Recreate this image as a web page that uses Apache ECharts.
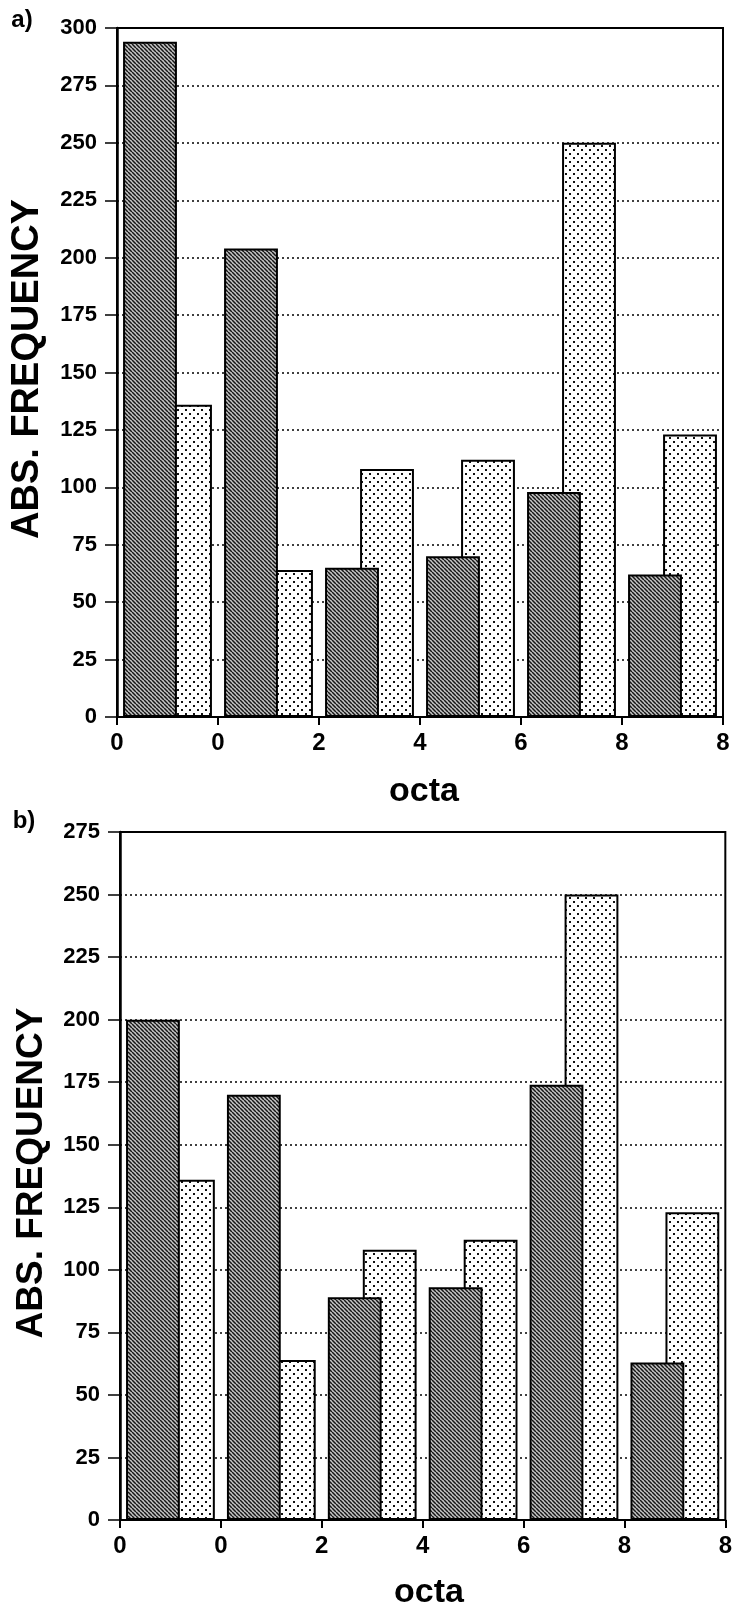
<!DOCTYPE html>
<html>
<head>
<meta charset="utf-8">
<script src="https://cdn.jsdelivr.net/npm/echarts@6/dist/echarts.min.js"></script>
<style>
  html, body { margin: 0; padding: 0; background: #fff; }
  #chart { width: 735px; height: 1611px; }
</style>
</head>
<body>
<div id="chart"></div>
<script>
// octa classes (6 groups), tick labels sit on the group boundaries
const groups = ['g1', 'g2', 'g3', 'g4', 'g5', 'g6'];
const tickLabels = ['0', '0', '2', '4', '6', '8', '8'];

// panel a)
const darkA = [294, 204, 65, 70, 98, 62];
const lightA = [136, 64, 108, 112, 250, 123];

// panel b)
const darkB = [200, 170, 89, 93, 174, 63];
const lightB = [136, 64, 108, 112, 250, 123];

const FONT = '"Liberation Sans", Arial, Helvetica, sans-serif';

function hatchPattern() {
  const c = document.createElement('canvas');
  c.width = 4;
  c.height = 4;
  const ctx = c.getContext('2d');
  ctx.fillStyle = '#c4c4c4';
  ctx.fillRect(0, 0, 4, 4);
  ctx.strokeStyle = '#161616';
  ctx.lineWidth = 1.5;
  for (let k = -4; k <= 4; k += 4) {
    ctx.beginPath();
    ctx.moveTo(k, 0);
    ctx.lineTo(k + 4, 4);
    ctx.stroke();
  }
  return c;
}

function dotPattern() {
  const c = document.createElement('canvas');
  c.width = 8;
  c.height = 8;
  const ctx = c.getContext('2d');
  ctx.fillStyle = '#fff';
  ctx.fillRect(0, 0, 8, 8);
  ctx.fillStyle = '#111';
  ctx.fillRect(1, 1, 2, 2);
  ctx.fillRect(5, 5, 2, 2);
  return c;
}

const hatch = { image: hatchPattern(), repeat: 'repeat' };
const dots = { image: dotPattern(), repeat: 'repeat' };

function grid(top, left, width, height) {
  return {
    left: left, top: top, width: width, height: height,
    containLabel: false,
    show: true,
    borderColor: '#000',
    borderWidth: 2,
    backgroundColor: 'transparent'
  };
}

function catAxis(gi) {
  return { type: 'category', gridIndex: gi, data: groups, show: false, boundaryGap: true };
}

function tickAxis(gi) {
  return {
    type: 'value', gridIndex: gi, min: 0, max: 6, interval: 1,
    position: 'bottom',
    axisLine: { show: true, lineStyle: { color: '#000', width: 2 } },
    axisTick: { show: true, length: 8, lineStyle: { color: '#000', width: 2 } },
    axisLabel: {
      show: true, showMinLabel: true, showMaxLabel: true,
      formatter: function (v) { return tickLabels[v]; },
      fontSize: 24, fontWeight: 'bold', color: '#000', fontFamily: FONT, margin: 14
    },
    splitLine: { show: false }
  };
}

function valAxis(gi, max) {
  return {
    type: 'value', gridIndex: gi, min: 0, max: max, interval: 25,
    axisLine: { show: true, lineStyle: { color: '#000', width: 2.5 } },
    axisTick: { show: true, length: 12, lineStyle: { color: '#000', width: 1.5 } },
    axisLabel: { fontSize: 22, fontWeight: 'bold', color: '#000', fontFamily: FONT, margin: 20 },
    splitLine: { show: true, lineStyle: { color: '#000', type: [2, 3], width: 1.5 } }
  };
}

function bars(xi, yi, data, pattern, z) {
  return {
    type: 'bar', xAxisIndex: xi, yAxisIndex: yi, data: data, z: z,
    barCategoryGap: '12%', barGap: '-35%',
    itemStyle: { color: pattern, borderColor: '#000', borderWidth: 2 },
    emphasis: { disabled: true },
    animation: false
  };
}

function text(str, x, y, size, rot) {
  return {
    type: 'text', x: x, y: y, rotation: rot || 0,
    style: {
      text: str, fill: '#000',
      font: 'bold ' + size + 'px ' + FONT,
      textAlign: 'center', textVerticalAlign: 'middle'
    }
  };
}

const chart = echarts.init(document.getElementById('chart'));

chart.setOption({
  animation: false,
  backgroundColor: '#fff',
  grid: [grid(28, 117, 606, 689), grid(832, 120, 607, 688)],
  xAxis: [catAxis(0), tickAxis(0), catAxis(1), tickAxis(1)],
  yAxis: [valAxis(0, 300), valAxis(1, 275)],
  series: [
    bars(0, 0, darkA, hatch, 3),
    bars(0, 0, lightA, dots, 2),
    bars(2, 1, darkB, hatch, 3),
    bars(2, 1, lightB, dots, 2)
  ],
  graphic: [
    text('a)', 22, 20, 24),
    text('b)', 24, 821, 24),
    text('octa', 424, 792, 34),
    text('octa', 429, 1593, 34),
    text('ABS. FREQUENCY', 28, 369, 38, Math.PI / 2),
    text('ABS. FREQUENCY', 32, 1173, 37, Math.PI / 2)
  ]
});

window.addEventListener('resize', function () {
  chart.resize();
});
</script>
</body>
</html>
